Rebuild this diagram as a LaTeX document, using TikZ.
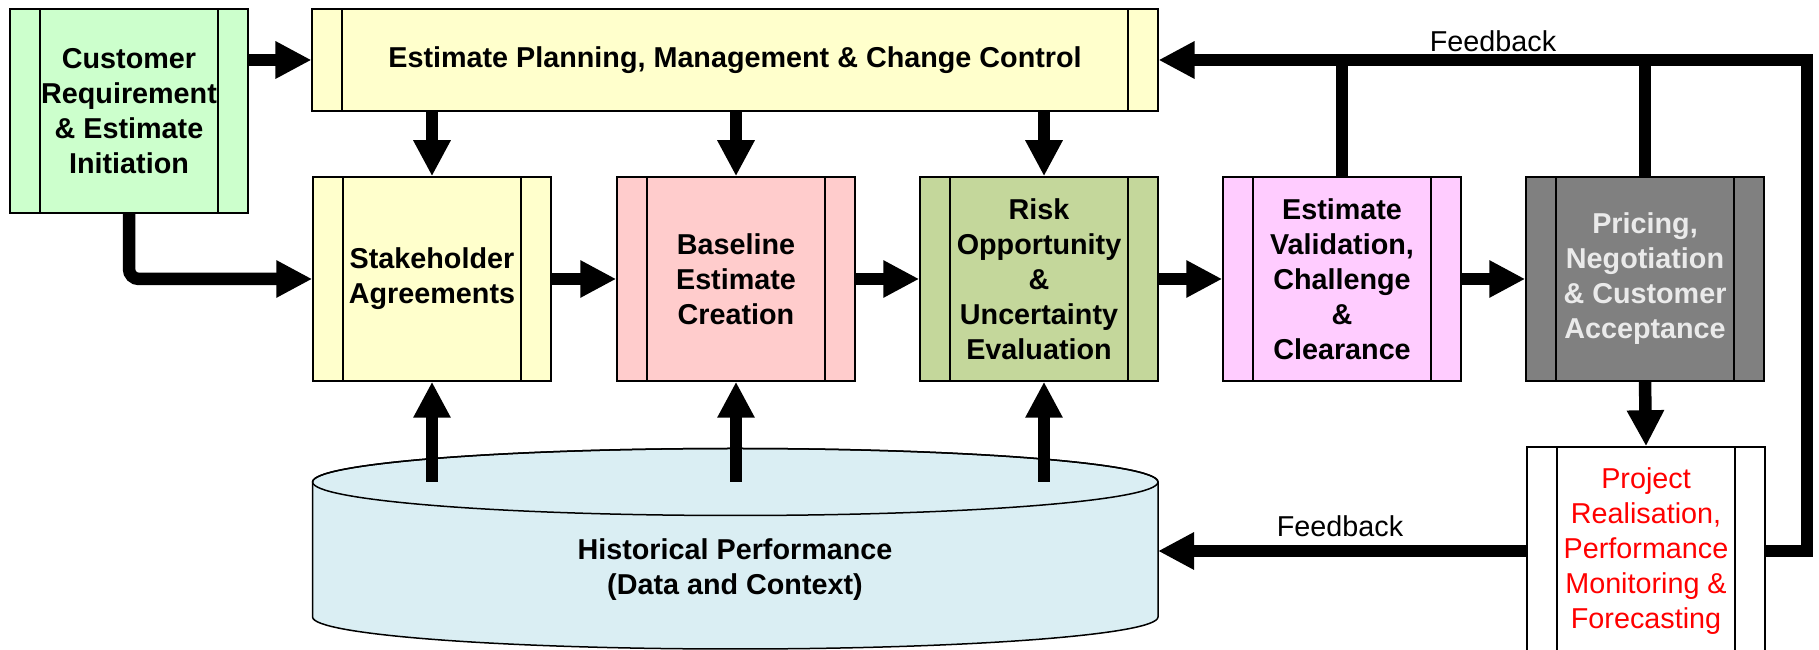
\documentclass[tikz,border=0pt]{standalone}
\usepackage{fontspec}
\setmainfont{Liberation Sans}
\usetikzlibrary{arrows.meta,positioning}
\definecolor{custgreen}{HTML}{CCFFCC}
\definecolor{planyellow}{HTML}{FFFFCC}
\definecolor{basered}{HTML}{FFCCCC}
\definecolor{riskgreen}{HTML}{C4D79B}
\definecolor{valpink}{HTML}{FFCCFF}
\definecolor{pricegray}{HTML}{808080}
\definecolor{pricetext}{HTML}{EAEAEA}
\definecolor{cylblue}{HTML}{DAEEF3}
\newcommand{\diafont}{\fontsize{11.5}{14}\selectfont}
\tikzset{every picture/.style={line width=0.6pt}}
\tikzstyle{proc}=[draw,minimum width=95.2pt,minimum height=81.6pt,inner sep=0pt,align=center,font=\diafont\bfseries,
  path picture={\draw ([xshift=12pt]path picture bounding box.north west) -- ([xshift=12pt]path picture bounding box.south west)
    ([xshift=-12pt]path picture bounding box.north east) -- ([xshift=-12pt]path picture bounding box.south east);}]

\begin{document}
\begin{tikzpicture}[x=0.4pt,y=-0.4pt,font=\diafont,>={Triangle[length=14.4pt,width=14pt]}]
\useasboundingbox (0,0) rectangle (1819,650);
% boxes
\node[proc,fill=custgreen] (A) at (129,111) {Customer\\Requirement\\\& Estimate\\Initiation};
\node[proc,fill=planyellow,minimum width=338.2pt,minimum height=40.8pt] (B) at (735,60) {Estimate Planning, Management \& Change Control};
\node[proc,fill=planyellow] (C) at (432,279) {Stakeholder\\Agreements};
\node[proc,fill=basered] (D) at (736,279) {Baseline\\Estimate\\Creation};
\node[proc,fill=riskgreen] (E) at (1039,279) {Risk\\Opportunity\\\&\\Uncertainty\\Evaluation};
\node[proc,fill=valpink] (F) at (1342,279) {Estimate\\Validation,\\Challenge\\\&\\Clearance};
\node[proc,fill=pricegray,text=pricetext] (G) at (1645,279) {Pricing,\\Negotiation\\\& Customer\\Acceptance};
\node[proc,fill=white,text=red,font=\diafont,minimum height=83.2pt] (P) at (1646,551) {Project\\Realisation,\\Performance\\Monitoring \&\\Forecasting};
% database
\draw[fill=cylblue] (312.6,482) -- (312.6,617) arc[start angle=180,end angle=0,x radius=422.7,y radius=32]
  -- (1158,482) arc[start angle=0,end angle=-180,x radius=422.7,y radius=33.5] -- cycle;
\coordinate (T) at (735.3,482);
\draw (T) ellipse[x radius=422.7,y radius=33.5];
\node[font=\diafont\bfseries,align=center] (H) at (735,570) {Historical Performance\\(Data and Context)};
\coordinate (HE) at (1158,551);
\coordinate (R) at (1807,60);
% arrows
\path[->,line width=5pt]
(C) edge (D)
(D) edge (E)
(E) edge (F)
(F) edge (G)
(G.south) edge (P.north)
(A.east |- B.west) edge (B.west)
(B.south -| C.north) edge (C.north)
(B.south -| D.north) edge (D.north)
([xshift=2pt]B.south -| E.north) edge ([xshift=2pt]E.north)
(C.south |- T) edge (C.south)
(D.south |- T) edge (D.south)
([xshift=2pt]E.south |- T) edge ([xshift=2pt]E.south)
(P.west) edge (HE);
\draw[->,line width=5pt,rounded corners=4pt] (A.south) |- (C.west);
\draw[->,line width=5pt] (P.east) -| (R) -- (B.east);
\draw[line width=5pt] (F.north) -- (F.north |- R) (G.north) -- (G.north |- R);
\node[anchor=base] (L1) at (1493,52) {Feedback};
\node[anchor=base] (L2) at (1340,537) {Feedback};
\end{tikzpicture}
\end{document}
